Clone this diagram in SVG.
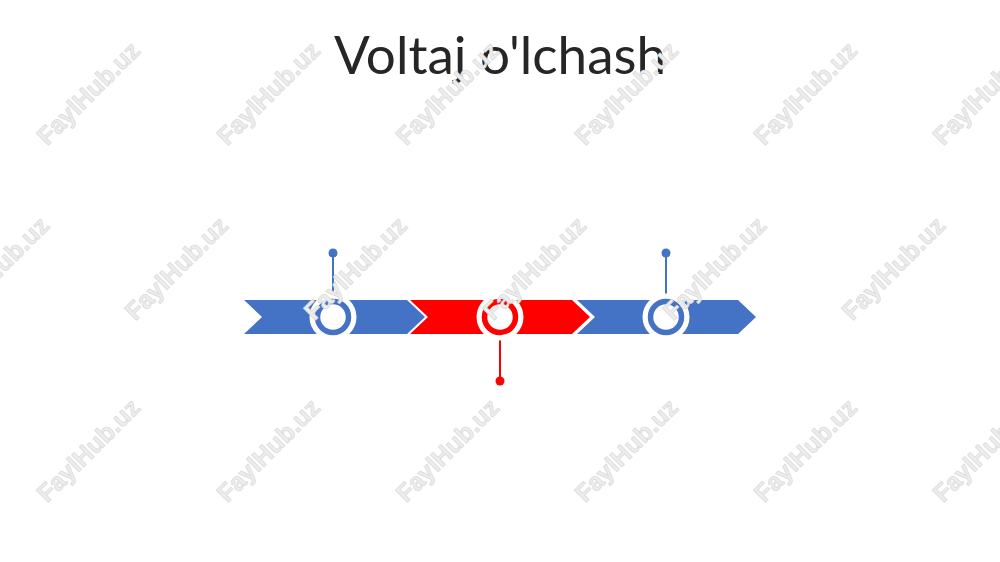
<svg xmlns="http://www.w3.org/2000/svg" width="1000" height="562" viewBox="0 0 1000 562">
<style>
.wm{font-family:"Liberation Sans",Arial,sans-serif;font-weight:bold;font-size:25px;fill:#ededed;stroke:#d9d9d9;stroke-width:0.7;text-anchor:middle}
.title{font-family:Lato,"Open Sans",sans-serif;font-size:53px;fill:#262626;text-anchor:middle}
.blue{fill:#4472C4}
.red{fill:#FF0000}
.ringB{fill:#fff;stroke:#4472C4;stroke-width:5.5}
.ringR{fill:#fff;stroke:#FF0000;stroke-width:5.5}
.halo{fill:#fff}
</style>
<rect width="1000" height="562" fill="#fff"/>
<g id="title"><text class="title" x="500" y="74">Voltaj o'lchash</text></g>
<g id="segments">
<g id="seg1"><polygon class="blue" points="244,300 407,300 425,317 407,334 244,334 262,317"/></g>
<g id="seg2"><polygon class="red" points="410,300 572,300 590,317 572,334 410,334 428,317"/></g>
<g id="seg3"><polygon class="blue" points="577,300 738,300 756,317 738,334 577,334 595,317"/></g>
</g>
<g id="connectors">
<line x1="333" y1="253" x2="333" y2="300" stroke="#4472C4" stroke-width="2"/>
<line x1="500" y1="334" x2="500" y2="381" stroke="#FF0000" stroke-width="2"/>
<line x1="666" y1="253" x2="666" y2="300" stroke="#4472C4" stroke-width="2"/>
</g>
<g id="marker1"><circle class="halo" cx="333" cy="317" r="23.5"/><circle class="ringB" cx="333" cy="317" r="15.5"/><circle class="blue" cx="333" cy="253" r="4.5"/></g>
<g id="marker2"><circle class="halo" cx="500" cy="317" r="23.5"/><circle class="ringR" cx="500" cy="317" r="15.5"/><circle class="red" cx="500" cy="381" r="4.5"/></g>
<g id="marker3"><circle class="halo" cx="666" cy="317" r="23.5"/><circle class="ringB" cx="666" cy="317" r="15.5"/><circle class="blue" cx="666" cy="253" r="4.5"/></g>
<g id="watermarks">
<text class="wm" transform="translate(88,93) rotate(-45)" y="9">FaylHub.uz</text>
<text class="wm" transform="translate(268,93) rotate(-45)" y="9">FaylHub.uz</text>
<text class="wm" transform="translate(447,93) rotate(-45)" y="9">FaylHub.uz</text>
<text class="wm" transform="translate(626,93) rotate(-45)" y="9">FaylHub.uz</text>
<text class="wm" transform="translate(805,93) rotate(-45)" y="9">FaylHub.uz</text>
<text class="wm" transform="translate(984,93) rotate(-45)" y="9">FaylHub.uz</text>
<text class="wm" transform="translate(-3,268) rotate(-45)" y="9">FaylHub.uz</text>
<text class="wm" transform="translate(176,268) rotate(-45)" y="9">FaylHub.uz</text>
<text class="wm" transform="translate(355,268) rotate(-45)" y="9">FaylHub.uz</text>
<text class="wm" transform="translate(534,268) rotate(-45)" y="9">FaylHub.uz</text>
<text class="wm" transform="translate(714,268) rotate(-45)" y="9">FaylHub.uz</text>
<text class="wm" transform="translate(893,268) rotate(-45)" y="9">FaylHub.uz</text>
<text class="wm" transform="translate(88,450) rotate(-45)" y="9">FaylHub.uz</text>
<text class="wm" transform="translate(268,450) rotate(-45)" y="9">FaylHub.uz</text>
<text class="wm" transform="translate(447,450) rotate(-45)" y="9">FaylHub.uz</text>
<text class="wm" transform="translate(626,450) rotate(-45)" y="9">FaylHub.uz</text>
<text class="wm" transform="translate(805,450) rotate(-45)" y="9">FaylHub.uz</text>
<text class="wm" transform="translate(984,450) rotate(-45)" y="9">FaylHub.uz</text>
</g>
</svg>
